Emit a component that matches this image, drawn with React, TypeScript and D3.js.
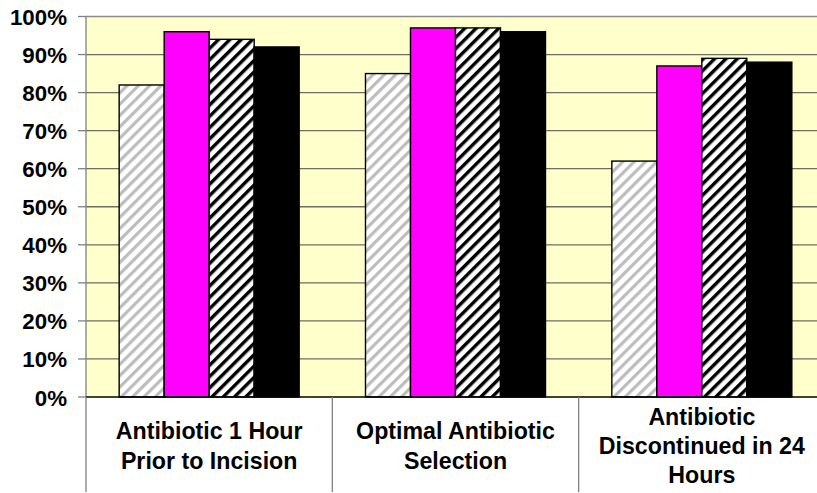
import React from "react";
import * as d3 from "d3";

const categories = [
  ["Antibiotic 1 Hour", "Prior to Incision"],
  ["Optimal Antibiotic", "Selection"],
  ["Antibiotic", "Discontinued in 24", "Hours"],
];
const seriesNames = ["Series A", "Series B", "Series C", "Series D"];
const seriesValues = [
  [0.82, 0.85, 0.62],
  [0.96, 0.97, 0.87],
  [0.94, 0.97, 0.89],
  [0.92, 0.96, 0.88],
];
const yTicks = [0, 0.1, 0.2, 0.3, 0.4, 0.5, 0.6, 0.7, 0.8, 0.9, 1.0];

const W = 817;
const H = 493;
const plotLeft = 86;
const plotRight = 825;
const plotTop = 16.5;
const plotBottom = 397;

const fills = ["url(#hatchGray)", "#FF00FF", "url(#hatchBlack)", "#000000"];

export default function App() {
  const catKeys = categories.map((_, i) => String(i));
  const x0 = d3.scaleBand().domain(catKeys).range([plotLeft, plotRight]).paddingInner(0).paddingOuter(0);
  const cw = x0.bandwidth();
  const barW = 45;
  const offset = (cw - barW * 4) / 2;
  const x1 = d3
    .scaleBand()
    .domain(seriesNames)
    .range([offset, offset + barW * 4])
    .padding(0);
  const y = d3.scaleLinear().domain([0, 1]).range([plotBottom, plotTop]);
  const font = "'Liberation Sans', Arial, sans-serif";

  return (
    <svg
      width={W}
      height={H}
      style={{ position: "absolute", left: 0, top: 0 }}
      viewBox={`0 0 ${W} ${H}`}
    >
      <defs>
        <pattern id="hatchGray" patternUnits="userSpaceOnUse" width={8} height={8} patternTransform="rotate(45)">
          <rect x={0} y={0} width={8} height={8} fill="#ffffff" />
          <rect x={0} y={0} width={3.2} height={8} fill="#bdbdbd" />
        </pattern>
        <pattern id="hatchBlack" patternUnits="userSpaceOnUse" width={8} height={8} patternTransform="rotate(45)">
          <rect x={0} y={0} width={8} height={8} fill="#ffffff" />
          <rect x={0} y={0} width={3.4} height={8} fill="#000000" />
        </pattern>
      </defs>
      <rect x={0} y={0} width={W} height={H} fill="#ffffff" />
      <rect
        x={plotLeft}
        y={plotTop}
        width={plotRight - plotLeft}
        height={plotBottom - plotTop}
        fill="#FFFFCC"
      />
      {yTicks.slice(1).map((t) => (
        <line
          key={t}
          x1={plotLeft}
          x2={plotRight}
          y1={y(t)}
          y2={y(t)}
          stroke={t === 1 ? "#8c8c8c" : "#6e6e62"}
          strokeWidth={1.3}
        />
      ))}
      <line x1={plotLeft} x2={plotLeft} y1={plotTop} y2={plotBottom} stroke="#808080" strokeWidth={1.3} />
      {yTicks.map((t) => (
        <g key={"t" + t}>
          <line x1={78} x2={plotLeft} y1={y(t)} y2={y(t)} stroke="#808080" strokeWidth={1.3} />
          <text
            x={67}
            y={y(t) + 8.5}
            textAnchor="end"
            fontFamily={font}
            fontWeight="bold"
            fontSize={22.3}
            fill="#000"
          >
            {`${Math.round(t * 100)}%`}
          </text>
        </g>
      ))}
      {catKeys.map((ck, ci) => (
        <g key={ck} transform={`translate(${x0(ck)},0)`}>
          {seriesNames.map((s, si) => {
            const v = seriesValues[si][ci];
            return (
              <rect
                key={s}
                x={x1(s)}
                y={y(v)}
                width={x1.bandwidth()}
                height={plotBottom - y(v)}
                fill={fills[si]}
                stroke="#000"
                strokeWidth={1.4}
              />
            );
          })}
        </g>
      ))}
      <line x1={plotLeft} x2={plotRight} y1={plotBottom} y2={plotBottom} stroke="#000" strokeWidth={1.5} />
      {catKeys.map((ck) => (
        <line
          key={"d" + ck}
          x1={x0(ck)}
          x2={x0(ck)}
          y1={plotBottom}
          y2={492}
          stroke="#808080"
          strokeWidth={1.3}
        />
      ))}
      {categories.map((lines, ci) => {
        const cx = (x0(String(ci)) as number) + cw / 2;
        return (
          <text
            key={"c" + ci}
            textAnchor="middle"
            fontFamily={font}
            fontWeight="bold"
            fontSize={23.2}
            fill="#000"
          >
            {lines.map((ln, li) => (
              <tspan key={li} x={cx} y={454 + (li - (lines.length - 1) / 2) * 29.4}>
                {ln}
              </tspan>
            ))}
          </text>
        );
      })}
    </svg>
  );
}
